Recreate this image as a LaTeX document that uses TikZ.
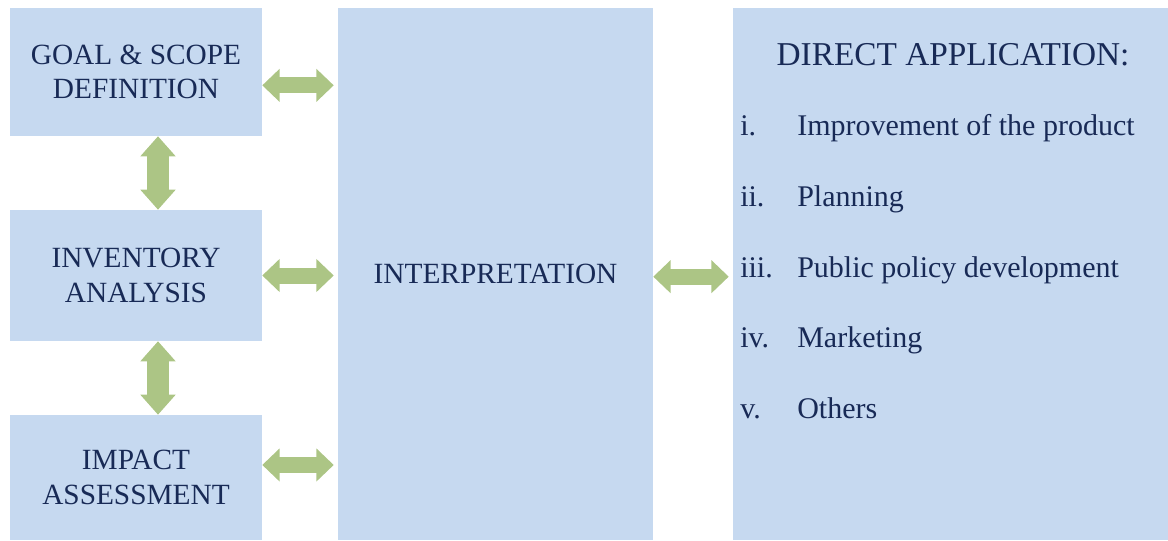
\documentclass[tikz,border=0pt]{standalone}
\usepackage{fontspec}
\setmainfont{Liberation Serif}
\usepackage{xcolor}
\usepackage{tikz}
\usetikzlibrary{arrows.meta}
\definecolor{boxblue}{RGB}{198,217,240}
\definecolor{arrowgreen}{RGB}{172,197,133}
\definecolor{textnavy}{RGB}{24,42,86}

\begin{document}
\begin{tikzpicture}[x=0.75pt,y=-0.75pt,
  stage/.style={fill=boxblue,text=textnavy,inner sep=0pt,align=center,font=\fontsize{22}{26}\selectfont},
  listitem/.style={text=textnavy,inner sep=0pt,anchor=base west,font=\fontsize{22.5}{26}\selectfont},
  harrow/.style={draw=arrowgreen,line width=12pt,{Triangle[length=13pt,width=24pt]}-{Triangle[length=13pt,width=24pt]},shorten >=3pt},
  varrow/.style={draw=arrowgreen,line width=17pt,{Triangle[length=15pt,width=25.5pt]}-{Triangle[length=15pt,width=25.5pt]}}]
\useasboundingbox (0,0) rectangle (1168,540);
  % stages
  \node[stage,minimum width=189pt,minimum height=96pt] (goal) at (136,72) {GOAL \& SCOPE\\DEFINITION};
  \node[stage,minimum width=189pt,minimum height=98.25pt] (inv) at (136,275.5) {INVENTORY\\ANALYSIS};
  \node[stage,minimum width=189pt,minimum height=93.75pt] (impact) at (136,477.5) {IMPACT\\ASSESSMENT};
  \node[stage,minimum width=236.25pt,minimum height=399pt] (interp) at (495.5,274) {INTERPRETATION};
  \node[stage,minimum width=326.25pt,minimum height=399pt] (direct) at (950.5,274) {};
  \node[text=textnavy,inner sep=0pt,anchor=base,font=\fontsize{25}{30}\selectfont] (title) at (953,65) {DIRECT APPLICATION:};
  \foreach \num/\txt [count=\i] in {i./Improvement of the product,ii./Planning,iii./Public policy development,iv./Marketing,v./Others}
  {
    \node[listitem] (num\i) at (740,{65+70.7*\i}) {\num};
    \node[listitem] (item\i) at (797,{65+70.7*\i}) {\txt};
  }
  % arrows
  \draw[varrow] ([xshift=16.5pt]goal.south) -- ([xshift=16.5pt]inv.north);
  \draw[varrow] ([xshift=16.5pt]inv.south) -- ([xshift=16.5pt]impact.north);
  \coordinate (g1) at ([yshift=-10pt]goal.east);
  \coordinate (i1) at (inv.east);
  \coordinate (m1) at ([yshift=9.4pt]impact.east);
  \coordinate (d1) at ([yshift=-2pt]interp.east);
  \draw[harrow] (g1) -- (g1 -| interp.west);
  \draw[harrow] (i1) -- (i1 -| interp.west);
  \draw[harrow] (m1) -- (m1 -| interp.west);
  \draw[harrow] (d1) -- (d1 -| direct.west);
\end{tikzpicture}
\end{document}
